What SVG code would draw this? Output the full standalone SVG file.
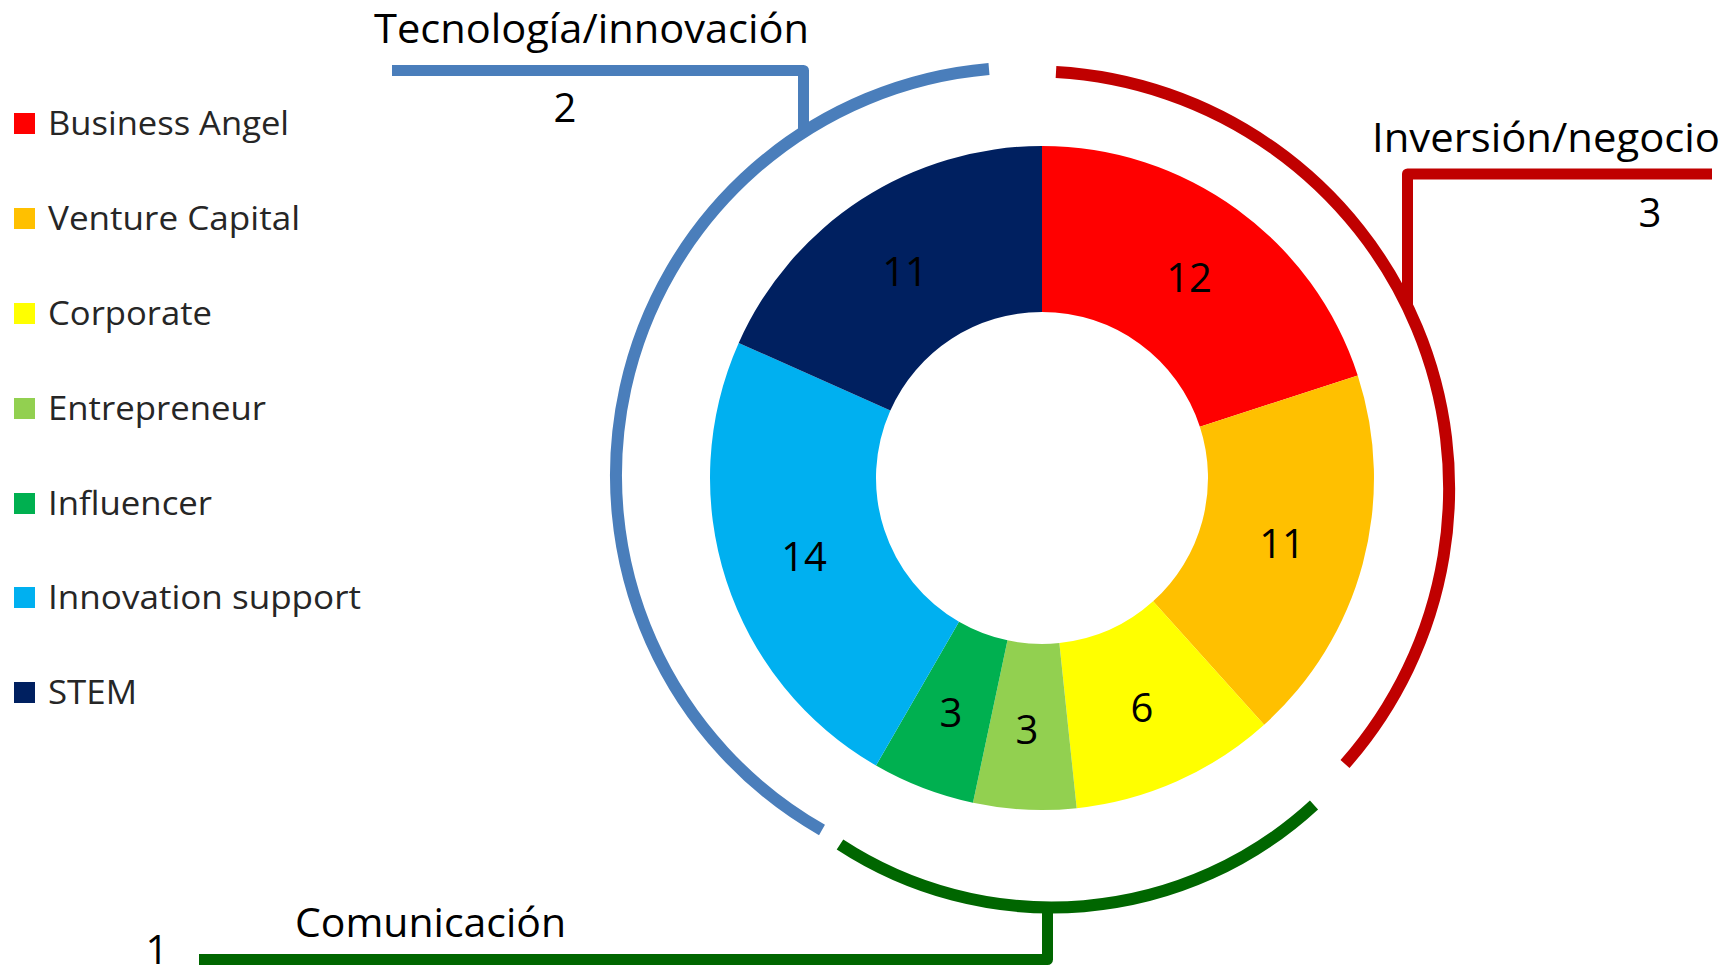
<svg xmlns="http://www.w3.org/2000/svg" width="1726" height="974" viewBox="0 0 1726 974">
<style>
.lg{font-family:"Open Sans","Noto Sans",sans-serif;font-size:33px;fill:#262626}
.num{font-family:"Open Sans","Noto Sans",sans-serif;font-size:40px;fill:#000;text-anchor:middle}
.ttl{font-family:"Open Sans","Noto Sans",sans-serif;font-size:40px;fill:#000}
.arc{fill:none;stroke-width:12}
.br{fill:none;stroke-width:11;stroke-linejoin:round}
.blue{stroke:#4A7EBB}
.red{stroke:#C00000}
.green{stroke:#006600}
</style>
<rect width="1726" height="974" fill="#fff"/>
<g id="legend">
<g id="legend-business-angel"><rect x="14" y="113" width="21" height="21" fill="#FF0000"/><text class="lg" x="48" y="135" textLength="241" lengthAdjust="spacingAndGlyphs">Business Angel</text></g>
<g id="legend-venture-capital"><rect x="14" y="208" width="21" height="21" fill="#FFC000"/><text class="lg" x="48" y="230" textLength="252" lengthAdjust="spacingAndGlyphs">Venture Capital</text></g>
<g id="legend-corporate"><rect x="14" y="303" width="21" height="21" fill="#FFFF00"/><text class="lg" x="48" y="325" textLength="164" lengthAdjust="spacingAndGlyphs">Corporate</text></g>
<g id="legend-entrepreneur"><rect x="14" y="398" width="21" height="21" fill="#92D050"/><text class="lg" x="48" y="420" textLength="218" lengthAdjust="spacingAndGlyphs">Entrepreneur</text></g>
<g id="legend-influencer"><rect x="14" y="493" width="21" height="21" fill="#00B050"/><text class="lg" x="48" y="515" textLength="164" lengthAdjust="spacingAndGlyphs">Influencer</text></g>
<g id="legend-innovation-support"><rect x="14" y="587" width="21" height="21" fill="#00B0F0"/><text class="lg" x="48" y="609" textLength="313" lengthAdjust="spacingAndGlyphs">Innovation support</text></g>
<g id="legend-stem"><rect x="14" y="682" width="21" height="21" fill="#002060"/><text class="lg" x="48" y="704" textLength="89" lengthAdjust="spacingAndGlyphs">STEM</text></g>
</g>
<g id="donut">
<g id="seg-business-angel"><path d="M1042,146 A332,332 0 0 1 1357.75,375.41 L1199.88,426.70 A166,166 0 0 0 1042,312 Z" fill="#FF0000"/><text class="num" x="1189" y="292">12</text></g>
<g id="seg-venture-capital"><path d="M1357.75,375.41 A332,332 0 0 1 1264.15,724.72 L1153.08,601.36 A166,166 0 0 0 1199.88,426.70 Z" fill="#FFC000"/><text class="num" x="1282" y="558">11</text></g>
<g id="seg-corporate"><path d="M1264.15,724.72 A332,332 0 0 1 1076.70,808.18 L1059.35,643.09 A166,166 0 0 0 1153.08,601.36 Z" fill="#FFFF00"/><text class="num" x="1142" y="722">6</text></g>
<g id="seg-entrepreneur"><path d="M1076.70,808.18 A332,332 0 0 1 972.97,802.75 L1007.49,640.37 A166,166 0 0 0 1059.35,643.09 Z" fill="#92D050"/><text class="num" x="1027" y="744">3</text></g>
<g id="seg-influencer"><path d="M972.97,802.75 A332,332 0 0 1 876,765.52 L959,621.76 A166,166 0 0 0 1007.49,640.37 Z" fill="#00B050"/><text class="num" x="951" y="727">3</text></g>
<g id="seg-innovation-support"><path d="M876,765.52 A332,332 0 0 1 738.70,342.96 L890.35,410.48 A166,166 0 0 0 959,621.76 Z" fill="#00B0F0"/><text class="num" x="804" y="571">14</text></g>
<g id="seg-stem"><path d="M738.70,342.96 A332,332 0 0 1 1042,146 L1042,312 A166,166 0 0 0 890.35,410.48 Z" fill="#002060"/><text class="num" x="905" y="286">11</text></g>
</g>
<g id="arc-tecnologia"><path class="arc blue" d="M989,69 A408,408 0 0 0 822,830"/></g>
<g id="arc-inversion"><path class="arc red" d="M1056,72 A417,417 0 0 1 1345,764"/></g>
<g id="arc-comunicacion"><path class="arc green" d="M840,844.5 A387,387 0 0 0 1314,805"/></g>
<g id="connectors">
<path class="br blue" d="M392,70.5 H803.5 V132"/>
<path class="br red" d="M1712,174 H1407.5 V307"/>
<path class="br green" d="M199,959.5 H1047.5 V907"/>
</g>
<g id="label-tecnologia"><text class="ttl" x="374" y="43" textLength="435" lengthAdjust="spacingAndGlyphs">Tecnología/innovación</text><text class="ttl" x="565" y="122" text-anchor="middle">2</text></g>
<g id="label-inversion"><text class="ttl" x="1372" y="152" textLength="348" lengthAdjust="spacingAndGlyphs">Inversión/negocio</text><text class="ttl" x="1650" y="227" text-anchor="middle">3</text></g>
<g id="label-comunicacion"><text class="ttl" x="295" y="937" textLength="271" lengthAdjust="spacingAndGlyphs">Comunicación</text><text class="ttl" x="157" y="964" text-anchor="middle" font-size="38">1</text></g>
</svg>
